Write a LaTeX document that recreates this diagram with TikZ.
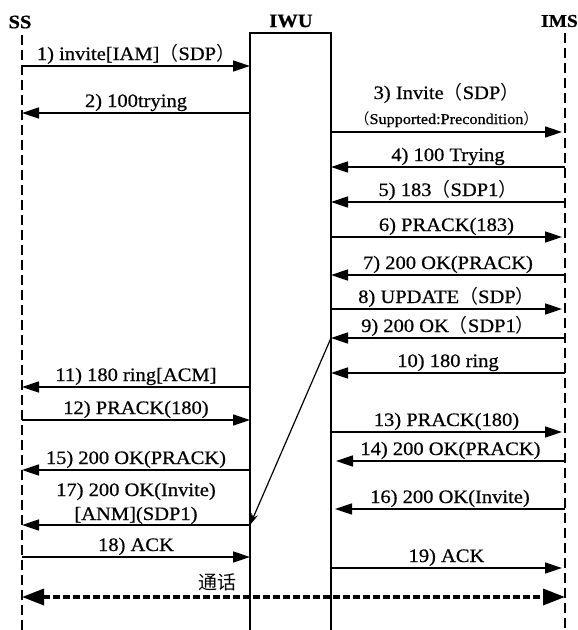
\documentclass[tikz,border=0pt]{standalone}
\usepackage{fontspec}
\setmainfont{Liberation Serif}[FakeStretch=1.08,FakeBold=0.6]
\newfontfamily\cjk{Noto Sans CJK SC}
\usetikzlibrary{arrows.meta}
\newcommand\fpl{{\cjk （}}
\newcommand\fpr{{\cjk ）}}
\newcommand\mymsg[5]{%
  \coordinate (#1s) at (#2,#4);
  \coordinate (#1e) at (#3,#4);
  \draw[msg] (#1s) -- (#1e) node[lbl,midway,yshift=6pt]{#5};}
\begin{document}
\begin{tikzpicture}[x=1pt,y=-1pt,
  msg/.style={-{Triangle[length=17pt,width=11pt]},line width=1.6pt},
  lbl/.style={anchor=base,inner sep=0pt,font=\fontsize{19}{22}\selectfont},
  small/.style={anchor=base,inner sep=0pt,font=\fontsize{15}{18}\selectfont},
  head/.style={inner sep=0pt,font=\fontsize{19}{22}\selectfont\bfseries},
  life/.style={line width=1.6pt,dash pattern=on 10pt off 5pt},
  talk/.style={{Triangle[length=22pt,width=16pt]}-{Triangle[length=22pt,width=16pt]},line width=3.4pt,dash pattern=on 6.5pt off 3.5pt}]
\useasboundingbox[fill=white] (0,0) rectangle (578,630);
% headings
\node[head] (ssh) at (20,22) {SS};
\node[head] (iwuh) at (291,21) {IWU};
\node[head,anchor=east,font=\fontsize{18}{22}\selectfont\bfseries] (imsh) at (578,21) {IMS};
% lifelines
\coordinate (ss0) at (22,35);
\coordinate (ss1) at (22,632);
\coordinate (ims0) at (565,33);
\coordinate (ims1) at (565,632);
\draw[life] (ss0) -- (ss1);
\draw[life] (ims0) -- (ims1);
% IWU box
\coordinate (iwuA) at (250,634);
\coordinate (iwuB) at (250,33);
\coordinate (iwuC) at (331,33);
\coordinate (iwuD) at (331,634);
\draw[line width=1.8pt] (iwuA) -- (iwuB) -- (iwuC) -- (iwuD);
% messages
\mymsg{m1}{22}{250}{66}{1) invite[IAM]\fpl SDP\fpr}
\mymsg{m2}{250}{22}{113}{2) 100trying}
\coordinate (m3s) at (331,132);
\coordinate (m3e) at (562,132);
\draw[msg] (m3s) -- (m3e)
  node[small,midway,yshift=8pt]{\fpl Supported:Precondition\fpr}
  node[lbl,midway,yshift=33pt]{3) Invite\fpl SDP\fpr};
\mymsg{m4}{565}{331}{167}{4) 100 Trying}
\mymsg{m5}{565}{331}{202}{5) 183\fpl SDP1\fpr}
\mymsg{m6}{331}{562}{237}{6) PRACK(183)}
\mymsg{m7}{565}{331}{275}{7) 200 OK(PRACK)}
\mymsg{m8}{331}{562}{309}{8) UPDATE\fpl SDP\fpr}
\mymsg{m9}{565}{331}{338}{9) 200 OK\fpl SDP1\fpr}
\mymsg{m10}{565}{331}{373}{10) 180 ring}
\mymsg{m11}{250}{22}{387}{11) 180 ring[ACM]}
\mymsg{m12}{22}{250}{420}{12) PRACK(180)}
\mymsg{m13}{331}{562}{432}{13) PRACK(180)}
\mymsg{m14}{565}{336}{461}{14) 200 OK(PRACK)}
\mymsg{m15}{250}{22}{470}{15) 200 OK(PRACK)}
\mymsg{m16}{565}{335}{509}{16) 200 OK(Invite)}
\coordinate (m17s) at (250,525);
\coordinate (m17e) at (22,525);
\draw[msg] (m17s) -- (m17e)
  node[lbl,midway,yshift=5pt]{[ANM](SDP1)}
  node[lbl,midway,yshift=29pt]{17) 200 OK(Invite)};
\mymsg{m18}{22}{250}{557}{18) ACK}
\mymsg{m19}{331}{562}{568}{19) ACK}
% forwarded SDP1
\draw[line width=1.2pt,-{Stealth[length=12pt,width=7pt]}] (m9e) -- (m17s);
% conversation
\coordinate (t1) at (22,597);
\coordinate (t2) at (565,597);
\draw[talk] (t1) -- (t2);
\node[inner sep=0pt,font=\fontsize{19}{22}\selectfont\cjk] (talklbl) at (217,582) {通话};
\end{tikzpicture}
\end{document}
